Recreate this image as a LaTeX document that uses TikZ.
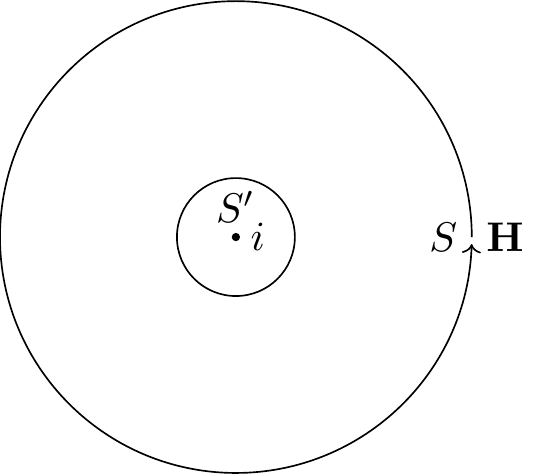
\documentclass[tikz,border=0pt]{standalone}
\usetikzlibrary{arrows.meta}
\begin{document}
\begin{tikzpicture}[lbl/.style={inner sep=0.333em}]
\useasboundingbox (-2.0,-2.01) rectangle (2.57,2.01);
\draw[-{To[width=4.6pt,length=2.2pt]}] (0:2) arc (0:358.3:2);
\draw (0,0) circle (0.5);
\fill (0,0) circle (1pt);
\coordinate (c) at (0,0);
\coordinate (e) at (2,0);
\node[lbl,above] (sp) at (c) {$S'$};
\node[lbl,right] (i) at (c) {$i$};
\node[lbl,left] (s) at (e) {$S$};
\node[lbl,right] (h) at (e) {$\mathbf{H}$};
\end{tikzpicture}
\end{document}
